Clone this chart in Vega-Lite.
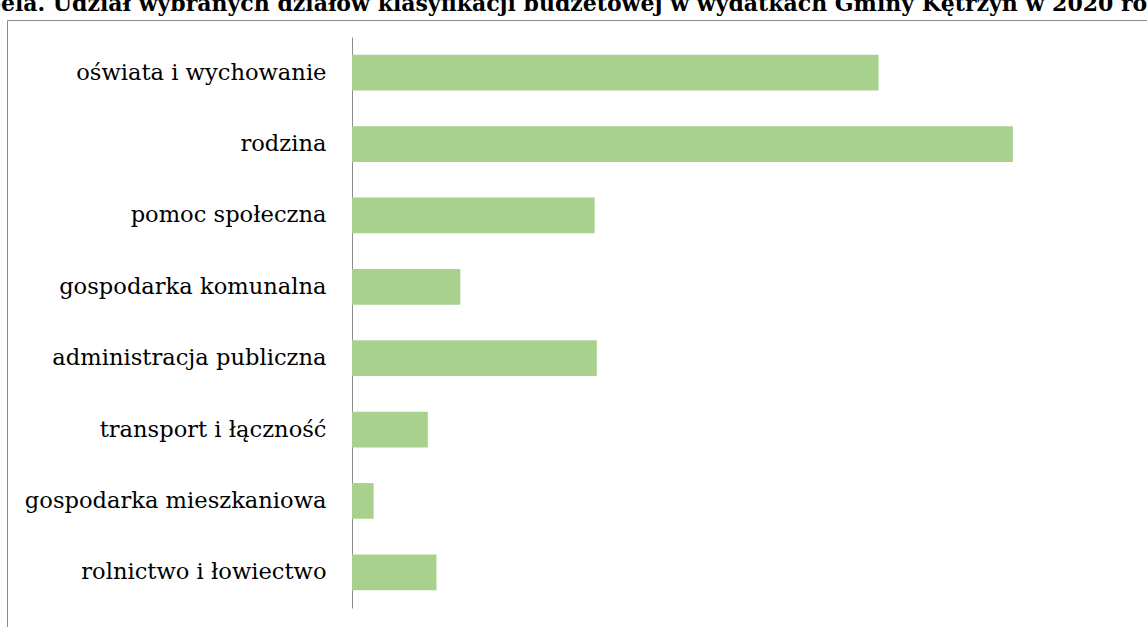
{
  "$schema": "https://vega.github.io/schema/vega-lite/v6.json",
  "autosize": "none",
  "width": 1140,
  "height": 607,
  "padding": {"left": 7, "top": 20, "right": 0, "bottom": 0},
  "background": "white",
  "config": {"view": {"stroke": "#8c8c8c", "strokeWidth": 1}},
  "title": {
    "text": "Tabela. Udział wybranych działów klasyfikacji budżetowej w wydatkach Gminy Kętrzyn w 2020 roku",
    "anchor": "start",
    "frame": "group",
    "dx": -50,
    "dy": 17,
    "offset": 4,
    "baseline": "alphabetic",
    "font": "DejaVu Serif",
    "fontSize": 22,
    "fontWeight": "bold",
    "color": "#000000"
  },
  "data": {
    "values": [
      {"dzial": "oświata i wychowanie", "udzial": 24.3},
      {"dzial": "rodzina", "udzial": 30.5},
      {"dzial": "pomoc społeczna", "udzial": 11.2},
      {"dzial": "gospodarka komunalna", "udzial": 5.0},
      {"dzial": "administracja publiczna", "udzial": 11.3},
      {"dzial": "transport i łączność", "udzial": 3.5},
      {"dzial": "gospodarka mieszkaniowa", "udzial": 1.0},
      {"dzial": "rolnictwo i łowiectwo", "udzial": 3.9}
    ]
  },
  "mark": {"type": "bar", "color": "#a9d18e"},
  "encoding": {
    "y": {
      "field": "dzial",
      "type": "nominal",
      "sort": null,
      "scale": {"range": [17, 588], "paddingInner": 0.5, "paddingOuter": 0.25},
      "axis": {
        "title": null,
        "offset": -345,
        "ticks": false,
        "tickSize": 0,
        "labelPadding": 26,
        "labelFont": "DejaVu Serif",
        "labelFontSize": 22.6,
        "labelColor": "#000000",
        "labelLimit": 400,
        "domainColor": "#8c8c8c",
        "domainWidth": 1,
        "grid": false
      }
    },
    "x": {
      "field": "udzial",
      "type": "quantitative",
      "scale": {"domain": [-15.92, 36.69], "nice": false, "zero": false},
      "axis": null
    }
  }
}
